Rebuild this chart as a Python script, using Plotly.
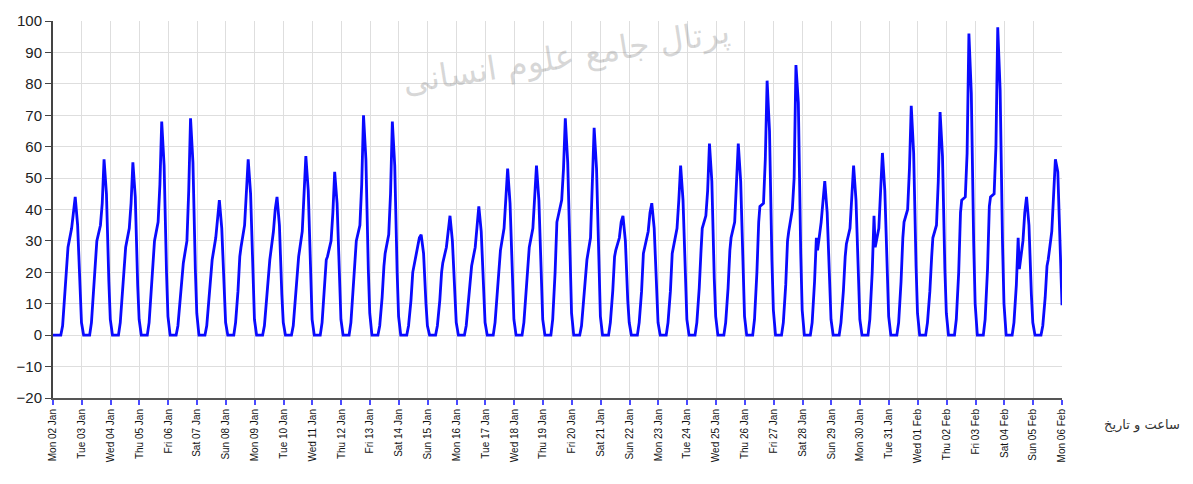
import plotly.graph_objects as go
import pandas as pd

# ---------------- data ----------------
day_starts = pd.date_range("2012-01-02", "2012-02-05", freq="D")   # 35 days
tick_days = pd.date_range("2012-01-02", "2012-02-06", freq="D")

# hour-of-day of each vertex of the daily profile
vertex_hours = [1.5, 6.5, 8, 10, 11.5, 12.5, 15.5, 17, 18.5, 20.5, 22.5, 23.7]

v01h = [0] * 35
v06h = [0] * 35
v08h = [3, 4, 4, 4, 3, 3, 4, 3, 3, 4, 4, 3, 3, 3, 3, 4, 4, 5, 3, 4, 4, 4, 4, 4, 5, 4, 4, 4, 5, 4, 4, 5, 5, 4, 3]
v10h = [13, 16, 14, 16, 12, 12, 14, 13, 13, 14, 15, 12, 11, 11, 11, 14, 14, 20, 12, 14, 14, 14, 15, 15, 20, 16, 17, 14, 20, 17, 14, 20, 21, 16, 12]
v11h = [23, 27, 24, 26, 20, 21, 25, 22, 23, 24, 26, 22, 20, 20, 19, 24, 24, 36, 21, 25, 26, 26, 27, 27, 36, 30, 31, 25, 38, 31, 25, 39, 41, 31, 22]
v12h = [28, 30, 28, 30, 23, 24, 28, 24, 25, 25, 30, 26, 22, 23, 22, 27, 28, 38, 24, 27, 28, 28, 34, 31, 41, 33, 27, 29, 28, 36, 31, 43, 44, 21, 24]
v15h = [34, 35, 34, 36, 30, 31, 35, 33, 33, 30, 35, 32, 27, 28, 28, 34, 34, 43, 31, 31, 33, 34, 38, 36, 42, 40, 36, 34, 34, 40, 35, 44, 45, 30, 33]
v17h = [40, 42, 42, 48, 46, 38, 44, 40, 43, 39, 48, 45, 31, 34, 36, 43, 43, 53, 46, 36, 39, 43, 46, 47, 56, 50, 42, 43, 45, 53, 49, 58, 60, 39, 45]
peak = [44, 56, 55, 68, 69, 43, 56, 44, 57, 52, 70, 68, 32, 38, 41, 53, 54, 69, 66, 38, 42, 54, 61, 61, 81, 86, 49, 54, 58, 73, 71, 96, 98, 44, 56]
v20h = [35, 45, 44, 54, 55, 34, 45, 35, 46, 42, 56, 54, 26, 30, 33, 42, 43, 55, 53, 30, 34, 43, 49, 49, 65, 74, 39, 43, 46, 58, 57, 77, 78, 35, 52]
v22h = [13, 17, 16, 20, 21, 13, 17, 13, 17, 16, 21, 20, 10, 11, 12, 16, 16, 21, 20, 11, 13, 16, 18, 18, 24, 26, 15, 16, 17, 22, 21, 29, 29, 13, 28]
v23h = [4, 5, 5, 6, 7, 4, 5, 4, 5, 5, 7, 6, 3, 4, 4, 5, 5, 7, 6, 4, 4, 5, 6, 6, 8, 8, 5, 5, 6, 7, 7, 10, 10, 4, 13]
start_value = 0
end_value = 9.5

x_title = "ساعت و تاریخ"
watermark = "پرتال جامع علوم انسانی"

# ---------------- build the series ----------------
cols = [v01h, v06h, v08h, v10h, v11h, v12h, v15h, v17h, peak, v20h, v22h, v23h]
xs = [day_starts[0]]
ys = [start_value]
for i, d in enumerate(day_starts):
    for h, col in zip(vertex_hours, cols):
        xs.append(d + pd.Timedelta(hours=h))
        ys.append(col[i])
xs.append(tick_days[-1])
ys.append(end_value)

fig = go.Figure()
fig.add_trace(go.Scatter(x=xs, y=ys, mode="lines",
                         line=dict(color="#0a0aff", width=2.8),
                         hoverinfo="skip", showlegend=False))

fig.update_layout(
    width=1185, height=476,
    margin=dict(l=45, r=131, t=13, b=86),
    paper_bgcolor="white", plot_bgcolor="white",
    font=dict(family="Liberation Sans", color="#222"),
    xaxis=dict(
        type="date", automargin=False,
        range=[tick_days[0], tick_days[-1]],
        tickvals=list(tick_days),
        ticktext=[d.strftime("%a %d %b") for d in tick_days],
        tickangle=-90,
        tickfont=dict(size=10, color="#111"),
        showgrid=True, gridcolor="#dedede", gridwidth=1,
        showline=True, linecolor="#555", linewidth=2,
        ticks="outside", ticklen=5, tickcolor="#4a4aff", tickwidth=1.5,
        zeroline=False,
    ),
    yaxis=dict(
        automargin=False,
        range=[-20, 100], dtick=10, tick0=0,
        tickfont=dict(size=15, color="#222"),
        showgrid=True, gridcolor="#dedede", gridwidth=1,
        showline=True, linecolor="#444", linewidth=2,
        ticks="outside", ticklen=6, tickcolor="#444",
        zeroline=False,
    ),
    annotations=[
        dict(text=x_title, xref="paper", yref="paper",
             x=1.079, y=-0.072, xanchor="center", yanchor="middle",
             showarrow=False,
             font=dict(family="DejaVu Sans", size=13, color="#333")),
        dict(text=watermark, xref="paper", yref="paper",
             x=0.508, y=0.905, xanchor="center", yanchor="middle",
             showarrow=False, textangle=-9,
             font=dict(family="DejaVu Sans", size=33, color="rgba(150,150,150,0.38)")),
    ],
)

fig.write_html("out.html")
